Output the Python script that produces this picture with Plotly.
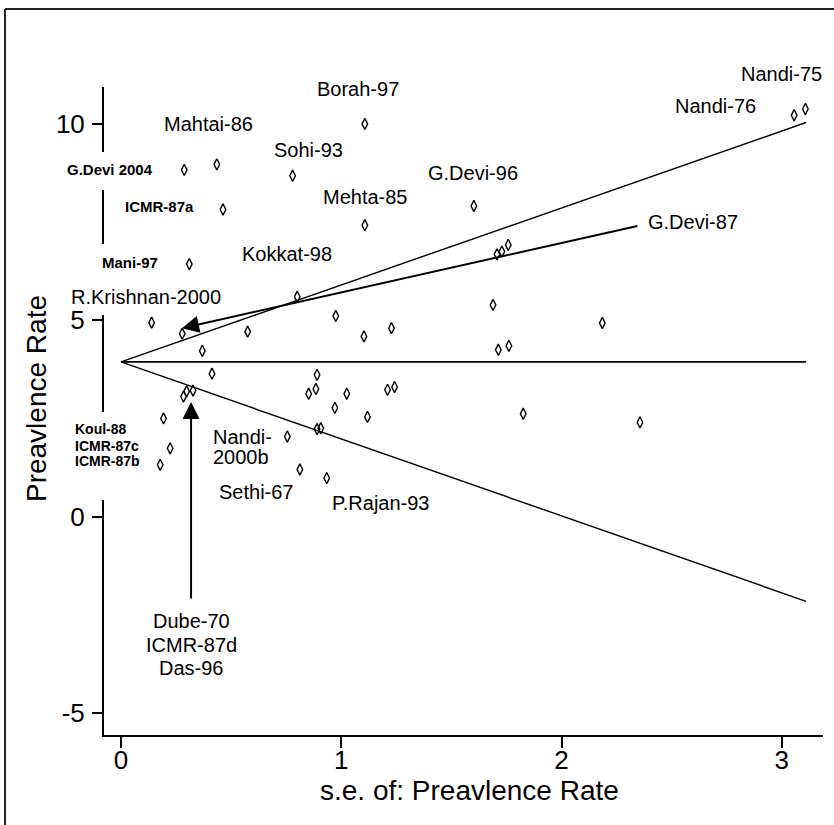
import plotly.graph_objects as go

# ---- data ----
se = [1.107, 0.287, 0.435, 0.779, 0.463, 1.107, 0.310, 0.800, 0.975, 1.228,
      1.103, 0.139, 0.278, 0.575, 0.369, 3.056, 3.107, 1.602, 1.707, 1.729,
      1.758, 1.689, 2.185, 1.713, 1.761, 0.413, 0.890, 0.852, 0.885, 1.025,
      1.210, 1.242, 0.971, 1.119, 0.284, 0.298, 0.327, 0.193, 0.223, 0.178,
      0.755, 0.890, 0.907, 0.812, 0.934, 1.826, 2.356]
rate = [10.00, 8.83, 8.97, 8.68, 7.82, 7.42, 6.43, 5.60, 5.11, 4.80,
        4.59, 4.94, 4.66, 4.71, 4.22, 10.22, 10.38, 7.91, 6.68, 6.75,
        6.92, 5.39, 4.93, 4.25, 4.35, 3.64, 3.61, 3.13, 3.25, 3.13,
        3.23, 3.30, 2.77, 2.54, 3.06, 3.19, 3.21, 2.50, 1.74, 1.32,
        2.04, 2.23, 2.25, 1.20, 0.98, 2.62, 2.40]

pooled = 3.94          # pooled prevalence (centre line)
z = 1.96               # funnel limits multiplier
se_line = [0, 3.11]    # extent of funnel lines

x_ticks = [0, 1, 2, 3]
y_ticks = [-5, 0, 5, 10]
y_tick_text = ["-5", "0", "5", "10"]

# study labels (data coordinates)
big_labels = [
    ("Borah-97", 1.076, 10.89), ("Mahtai-86", 0.395, 10.0), ("Sohi-93", 0.849, 9.34),
    ("Mehta-85", 1.108, 8.13), ("Kokkat-98", 0.754, 6.68), ("R.Krishnan-2000", 0.113, 5.60),
    ("Nandi-76", 2.701, 10.46), ("G.Devi-96", 1.598, 8.75),
    ("Sethi-67", 0.617, 0.63), ("P.Rajan-93", 1.180, 0.35),
    ("Dube-70", 0.318, -2.66), ("ICMR-87d", 0.318, -3.27), ("Das-96", 0.318, -3.85),
]
left_big_labels = [("G.Devi-87", 2.383, 7.50), ("Nandi-", 0.409, 2.03), ("2000b", 0.409, 1.52)]
small_labels = [("G.Devi 2004", -0.050, 8.83), ("ICMR-87a", 0.177, 7.90), ("Mani-97", 0.041, 6.48)]
# labels lying outside the axis ranges (paper coordinates)
paper_big_labels = [("Nandi-75", 0.9416, 1.020)]
paper_small_labels = [("Koul-88", -0.0431, 0.4722), ("ICMR-87c", -0.0431, 0.446), ("ICMR-87b", -0.0431, 0.4228)]

FONT = "Liberation Sans, Arial, sans-serif"
BIG = 20
X_RANGE = [-0.0772, 3.187]

fig = go.Figure()

upper = [pooled + z * s for s in se_line]
lower = [pooled - z * s for s in se_line]
line_style = dict(color="black", width=1.4)
fig.add_trace(go.Scatter(x=se_line, y=upper, mode="lines", line=line_style, hoverinfo="skip"))
fig.add_trace(go.Scatter(x=se_line, y=[pooled, pooled], mode="lines", line=dict(color="black", width=1.8), hoverinfo="skip"))
fig.add_trace(go.Scatter(x=se_line, y=lower, mode="lines", line=line_style, hoverinfo="skip"))

fig.add_trace(go.Scatter(
    x=se, y=rate, mode="markers",
    marker=dict(symbol="diamond-tall-open", size=8, color="black", line=dict(width=1.4, color="black")),
))
# invisible companion trace so the label-only x axis is drawn
fig.add_trace(go.Scatter(x=se_line, y=[pooled, pooled], xaxis="x2", mode="markers",
                         marker=dict(opacity=0), hoverinfo="skip"))

annotations = []
for t, x, y in big_labels:
    annotations.append(dict(text=t, x=x, y=y, xref="x", yref="y", showarrow=False,
                            font=dict(family=FONT, size=BIG, color="black"), xanchor="center", yanchor="middle"))
for t, x, y in left_big_labels:
    annotations.append(dict(text=t, x=x, y=y, xref="x", yref="y", showarrow=False,
                            font=dict(family=FONT, size=BIG, color="black"), xanchor="left", yanchor="middle"))
for t, x, y in small_labels:
    annotations.append(dict(text="<b>" + t + "</b>", x=x, y=y, xref="x", yref="y", showarrow=False,
                            font=dict(family=FONT, size=15, color="black"), xanchor="center", yanchor="middle"))
for t, x, y in paper_big_labels:
    annotations.append(dict(text=t, x=x, y=y, xref="paper", yref="paper", showarrow=False,
                            font=dict(family=FONT, size=BIG, color="black"), xanchor="center", yanchor="middle"))
for t, x, y in paper_small_labels:
    annotations.append(dict(text="<b>" + t + "</b>", x=x, y=y, xref="paper", yref="paper", showarrow=False,
                            font=dict(family=FONT, size=14, color="black"), xanchor="left", yanchor="middle"))

# arrows
annotations.append(dict(text="", x=0.277, y=4.80, ax=2.351, ay=7.41, xref="x", yref="y",
                        axref="x", ayref="y", showarrow=True, arrowhead=2, arrowsize=1.7,
                        arrowwidth=2, arrowcolor="black"))
annotations.append(dict(text="", x=0.318, y=2.92, ax=0.318, ay=-2.12, xref="x", yref="y",
                        axref="x", ayref="y", showarrow=True, arrowhead=2, arrowsize=1.7,
                        arrowwidth=2, arrowcolor="black"))

# axis titles
annotations.append(dict(text="Preavlence Rate", x=-0.0946, y=0.52, xref="paper", yref="paper",
                        showarrow=False, textangle=-90, font=dict(family=FONT, size=28, color="black"),
                        xanchor="center", yanchor="middle"))
annotations.append(dict(text="s.e. of: Preavlence Rate", x=0.5077, y=-0.0849, xref="paper", yref="paper",
                        showarrow=False, font=dict(family=FONT, size=28, color="black"),
                        xanchor="center", yanchor="middle"))

shapes = []
# gaps in y axis line behind labels
for y0, y1 in [(0.841, 0.8997), (0.648, 0.7577), (0.3627, 0.4985)]:
    shapes.append(dict(type="rect", xref="paper", yref="paper", x0=-0.009, x1=0.009, y0=y0, y1=y1,
                       fillcolor="white", line=dict(width=0), layer="above"))
# outer frame (left and top)
shapes.append(dict(type="line", xref="paper", yref="paper", x0=-0.1377, x1=-0.1377, y0=1.1204, y1=-0.3,
                   line=dict(color="#222", width=2), layer="above"))
shapes.append(dict(type="line", xref="paper", yref="paper", x0=-0.1377, x1=1.3, y0=1.1204, y1=1.1204,
                   line=dict(color="#222", width=2), layer="above"))

fig.update_layout(
    width=834, height=825,
    margin=dict(l=104, r=11, t=87, b=90),
    paper_bgcolor="white", plot_bgcolor="white",
    showlegend=False,
    annotations=annotations,
    shapes=shapes,
    font=dict(family=FONT, color="black"),
    xaxis=dict(range=X_RANGE, tickvals=x_ticks, ticks="outside", ticklen=11, tickwidth=1.5,
               tickcolor="black", showline=True, linecolor="black", linewidth=2, showgrid=False,
               zeroline=False, showticklabels=False),
    # tick labels only, placed a bit closer to the axis line
    xaxis2=dict(range=X_RANGE, tickvals=x_ticks, ticks="", overlaying="x", anchor="free", position=0,
                side="bottom", showline=False, showgrid=False, zeroline=False,
                tickfont=dict(family=FONT, size=26, color="black"), ticklabelstandoff=7),
    yaxis=dict(range=[-5.56, 10.94], tickvals=y_ticks, ticktext=y_tick_text, ticks="outside",
               ticklen=10, tickwidth=1.5, tickcolor="black", showline=True, linecolor="black",
               linewidth=2, showgrid=False, zeroline=False,
               tickfont=dict(family=FONT, size=26, color="black"), ticklabelstandoff=2),
)

fig.write_html("out.html")
